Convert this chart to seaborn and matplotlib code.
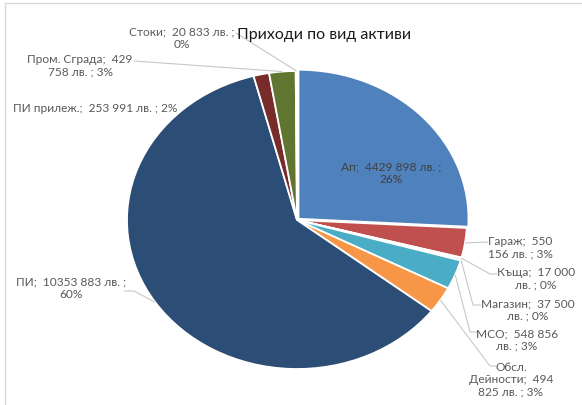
import numpy as np
import matplotlib
matplotlib.use("Agg")
import matplotlib.pyplot as plt
import seaborn as sns

# Revenue by asset type (BGN)
categories = ["Ап", "Гараж", "Къща", "Магазин", "МСО", "Обсл. Дейности",
              "ПИ", "ПИ прилеж.", "Пром. Сграда", "Стоки"]
amounts = [4429898, 550156, 17000, 37500, 548856, 494825,
           10353883, 253991, 429758, 20833]
percent_labels = [26, 3, 0, 0, 3, 3, 60, 2, 3, 0]
title = "Приходи по вид активи"

colors = ["#4F81BD", "#C0504D", "#9BBB59", "#8064A2", "#4BACC6", "#F79646",
          "#2C4D75", "#772C2A", "#5F7530", "#4D3B62"]

sns.set_theme(style="white")
plt.rcParams["font.family"] = ["Lato", "DejaVu Sans"]

W, H = 582, 406
fig = plt.figure(figsize=(W / 100, H / 100), dpi=100)
fig.patch.set_facecolor("white")

# Pie area in pixel terms: centre (297, 221), radii 170 x 149
cx, cy, rx, ry = 297, 221, 170, 149
ax = fig.add_axes([(cx - rx) / W, (H - (cy + ry)) / H, 2 * rx / W, 2 * ry / H])
explode = [0.012] + [0] * (len(amounts) - 1)
wedges, _ = ax.pie(amounts, colors=sns.color_palette(colors), startangle=90,
                   counterclock=False, explode=explode,
                   wedgeprops=dict(edgecolor="white", linewidth=1.3))
for w in wedges:
    w.set_clip_on(False)
ax.set_aspect("auto")
ax.set_xlim(-1, 1)
ax.set_ylim(-1, 1)
ax.axis("off")

# Overlay in pixel coordinates (origin top-left) for labels and leaders
ov = fig.add_axes([0, 0, 1, 1], zorder=5)
ov.set_xlim(0, W)
ov.set_ylim(H, 0)
ov.axis("off")
ov.patch.set_alpha(0)

# chart frame (top and left edges)
frame_c = "#D9D9D9"
ov.plot([5, 5], [4, H], color=frame_c, lw=1.0)
ov.plot([5, W], [4, 4], color=frame_c, lw=1.0)


def amount_text(v):
    return f"{v // 1000} {v % 1000:03d}"


def amount_split(v):
    return str(v // 1000), f"{v % 1000:03d}"


def label_text(i, style):
    n, v, p = categories[i], amounts[i], percent_labels[i]
    hi, lo = amount_split(v)
    if style == "two":
        return f"{n};  {amount_text(v)} лв. ;\n{p}%"
    if style == "one":
        return f"{n};  {amount_text(v)} лв. ; {p}%"
    if style == "split":
        return f"{n};  {hi}\n{lo} лв. ; {p}%"
    if style == "unit":
        return f"{n};  {amount_text(v)}\nлв. ; {p}%"
    if style == "name":
        n1, n2 = n.split(" ", 1)
        return f"{n1}\n{n2};  {hi}\n{lo} лв. ; {p}%"


# label layout: (text centre x, y, wrap style, leader start, leader elbow)
layout = {
    0: (391, 173, "two", None, None),
    1: (520, 248, "split", (488, 243), (488, 243)),
    2: (536, 279, "unit", (497, 275), (490, 275)),
    3: (528, 310, "unit", (481, 306), (473, 306)),
    4: (517, 340, "unit", (478, 333), (470, 333)),
    5: (511, 380, "name", (496, 367), (490, 367)),
    6: (71, 288, "two", (124, 292), (134, 292)),
    7: (95, 108, "one", None, None),
    8: (80, 66, "split", (134, 62), (134, 62)),
    9: (182, 38, "two", (236, 34), (236, 34)),
}

text_c = "#595959"
leader_c = "#C8C8C8"
inv = ov.transData.inverted()
for i, (tx, ty, style, start, elbow) in layout.items():
    ov.text(tx, ty, label_text(i, style), ha="center", va="center",
            multialignment="center", fontsize=8.6,
            color="#404040" if i == 0 else text_c, linespacing=1.15)
    if start is None:
        continue
    w = wedges[i]
    mid = np.deg2rad((w.theta1 + w.theta2) / 2)
    px = w.center[0] + w.r * np.cos(mid)
    py = w.center[1] + w.r * np.sin(mid)
    ex, ey = inv.transform(ax.transData.transform((px, py)))
    ov.plot([start[0], elbow[0], ex], [start[1], elbow[1], ey],
            color=leader_c, lw=0.8, solid_capstyle="butt")

ov.text(324, 35, title, ha="center", va="center", fontsize=11.5,
        color="#1A1A1A")

fig.savefig("out.png", dpi=100, facecolor="white")
